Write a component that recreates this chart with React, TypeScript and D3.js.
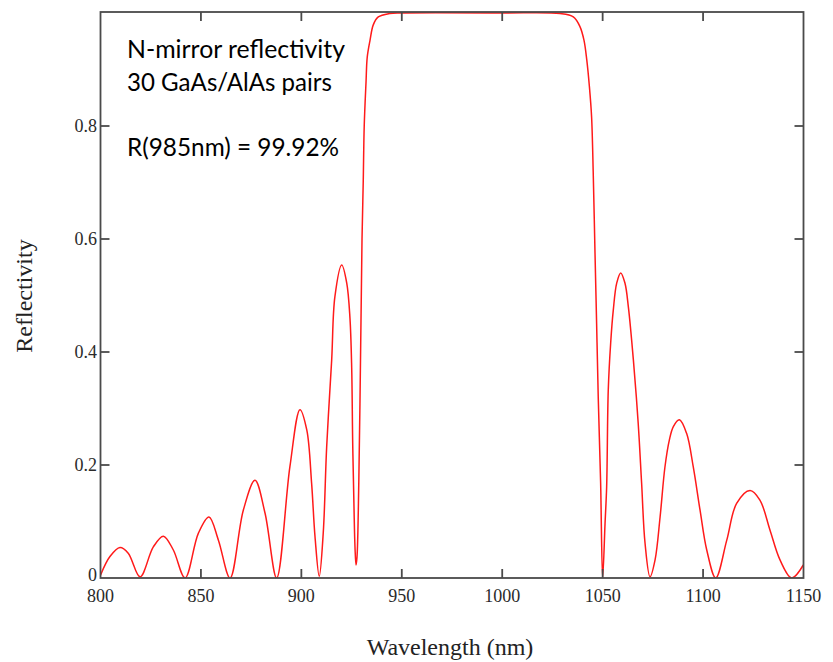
import React from "react";
import * as d3 from "d3";

const wavelength = [
  800, 804.7, 809.7, 813.8, 819.7, 826.3, 831.3, 836.2, 842.1, 848.7, 854.0, 858.7, 864.5,
  871.1, 876.9, 881.9, 887.7, 894.3, 899.3, 902.7, 905.1, 906.8, 908.9, 910.9, 912.6, 915.1,
  916.7, 920.1, 922.6, 924.2, 925.06, 925.56, 926.2, 926.7, 927.2, 927.7, 928.6, 929.6, 930.2,
  930.8, 931.3, 932.2, 932.8, 934.2, 935.8, 938.3, 944, 950, 1000, 1028.8, 1035.4, 1038.7,
  1040.7, 1042.1, 1043.4, 1044.5, 1045.3, 1046.2, 1047.0, 1047.8, 1049.0, 1050.0, 1051.2,
  1052.0, 1052.8, 1054.0, 1055.3, 1057.0, 1059.0, 1061.1, 1062.8, 1065.3, 1067.7, 1069.4,
  1071.1, 1073.6, 1076.1, 1078.6, 1081.0, 1083.2, 1085.2, 1088.2, 1091.8, 1095.1, 1098.5,
  1101.8, 1106.3, 1111.8, 1116.7, 1123.4, 1128.3, 1133.3, 1138.3, 1144.1, 1149.9,
];
const reflectivity = [
  0.005, 0.038, 0.054, 0.044, 0.002, 0.055, 0.074, 0.05, 0.0, 0.079, 0.108, 0.067, 0.0,
  0.12, 0.173, 0.115, 0.0, 0.197, 0.298, 0.262, 0.168, 0.073, 0.003, 0.08, 0.232, 0.386,
  0.498, 0.554, 0.522, 0.46, 0.372, 0.239, 0.126, 0.055, 0.023, 0.037, 0.17, 0.43, 0.6,
  0.7, 0.8, 0.878, 0.922, 0.952, 0.979, 0.993, 0.999, 1.0, 1.0, 0.999, 0.993, 0.976,
  0.952, 0.917, 0.87, 0.816, 0.719, 0.575, 0.45, 0.321, 0.168, 0.0, 0.097,
  0.162, 0.333, 0.416, 0.474, 0.522, 0.54, 0.522, 0.48, 0.386, 0.274, 0.168,
  0.062, 0.002, 0.032, 0.108, 0.196, 0.244, 0.268, 0.28, 0.256, 0.197, 0.12,
  0.05, 0.0, 0.067, 0.132, 0.155, 0.138, 0.085, 0.032, 0.0, 0.023,
];
const xTicks = [800, 850, 900, 950, 1000, 1050, 1100, 1150];
const yTicks = [0, 0.2, 0.4, 0.6, 0.8];
const yTickLabels = ["0", "0.2", "0.4", "0.6", "0.8"];
const annotation = ["N-mirror reflectivity", "30 GaAs/AlAs pairs", "", "R(985nm) = 99.92%"];
const annotationWidths = [218, 205, 0, 212];

export default function App() {
  const W = 833, H = 662;
  const left = 100.5, right = 803.5, top = 12, bottom = 578;
  const x = d3.scaleLinear().domain([800, 1150]).range([left, right]);
  const y = d3.scaleLinear().domain([0, 1]).range([bottom, 13]);
  const pts = wavelength.map((w, i) => [w, reflectivity[i]] as [number, number]);
  const line = d3.line<[number, number]>()
    .x((d) => x(d[0]))
    .y((d) => y(d[1]))
    .curve(d3.curveCatmullRom.alpha(0.5));
  const axisColor = "#4a4a4a";
  const tickLen = 9;
  const serif = "'Liberation Serif', 'Times New Roman', serif";
  return (
    <svg width={W} height={H} style={{ position: "absolute", left: 0, top: 0, background: "#fff" }}>
      <defs>
        <clipPath id="plotClip">
          <rect x={left} y={top - 1} width={right - left} height={bottom - top + 1} />
        </clipPath>
      </defs>
      {/* curve */}
      <path d={line(pts) || ""} fill="none" stroke="#ff1a1a" strokeWidth={1.5} strokeLinejoin="round" clipPath="url(#plotClip)" />
      {/* frame */}
      <rect x={left} y={top} width={right - left} height={bottom - top} fill="none" stroke={axisColor} strokeWidth={1.8} />
      {/* x ticks */}
      {xTicks.slice(1, -1).map((t) => (
        <g key={"xt" + t}>
          <line x1={x(t)} x2={x(t)} y1={bottom} y2={bottom - tickLen} stroke={axisColor} strokeWidth={1.8} />
          <line x1={x(t)} x2={x(t)} y1={top} y2={top + tickLen} stroke={axisColor} strokeWidth={1.8} />
        </g>
      ))}
      {xTicks.map((t) => (
        <text key={"xl" + t} x={x(t)} y={602} textAnchor="middle" fontFamily={serif} fontSize={18} fill="#2a2a2a">
          {t}
        </text>
      ))}
      {/* y ticks */}
      {yTicks.slice(1).map((t) => (
        <g key={"yt" + t}>
          <line x1={left} x2={left + tickLen} y1={y(t)} y2={y(t)} stroke={axisColor} strokeWidth={1.8} />
          <line x1={right} x2={right - tickLen} y1={y(t)} y2={y(t)} stroke={axisColor} strokeWidth={1.8} />
        </g>
      ))}
      {yTicks.map((t, i) => (
        <text key={"yl" + t} x={97} y={y(t) + (t === 0 ? 3 : 6)} textAnchor="end" fontFamily={serif} fontSize={18} fill="#2a2a2a">
          {yTickLabels[i]}
        </text>
      ))}
      {/* axis titles */}
      <text x={450} y={655} textAnchor="middle" fontFamily={serif} fontSize={24} fill="#222">
        Wavelength (nm)
      </text>
      <text transform={`translate(32,296) rotate(-90)`} textAnchor="middle" fontFamily={serif} fontSize={24} fill="#222">
        Reflectivity
      </text>
      {/* annotation */}
      {annotation.map((s, i) =>
        s ? (
          <text key={"an" + i} x={127} y={58 + i * 32.5} fontFamily="Lato, 'Open Sans', sans-serif" fontSize={25}
            fill="#000" textLength={annotationWidths[i]} lengthAdjust="spacingAndGlyphs">
            {s}
          </text>
        ) : null
      )}
    </svg>
  );
}
